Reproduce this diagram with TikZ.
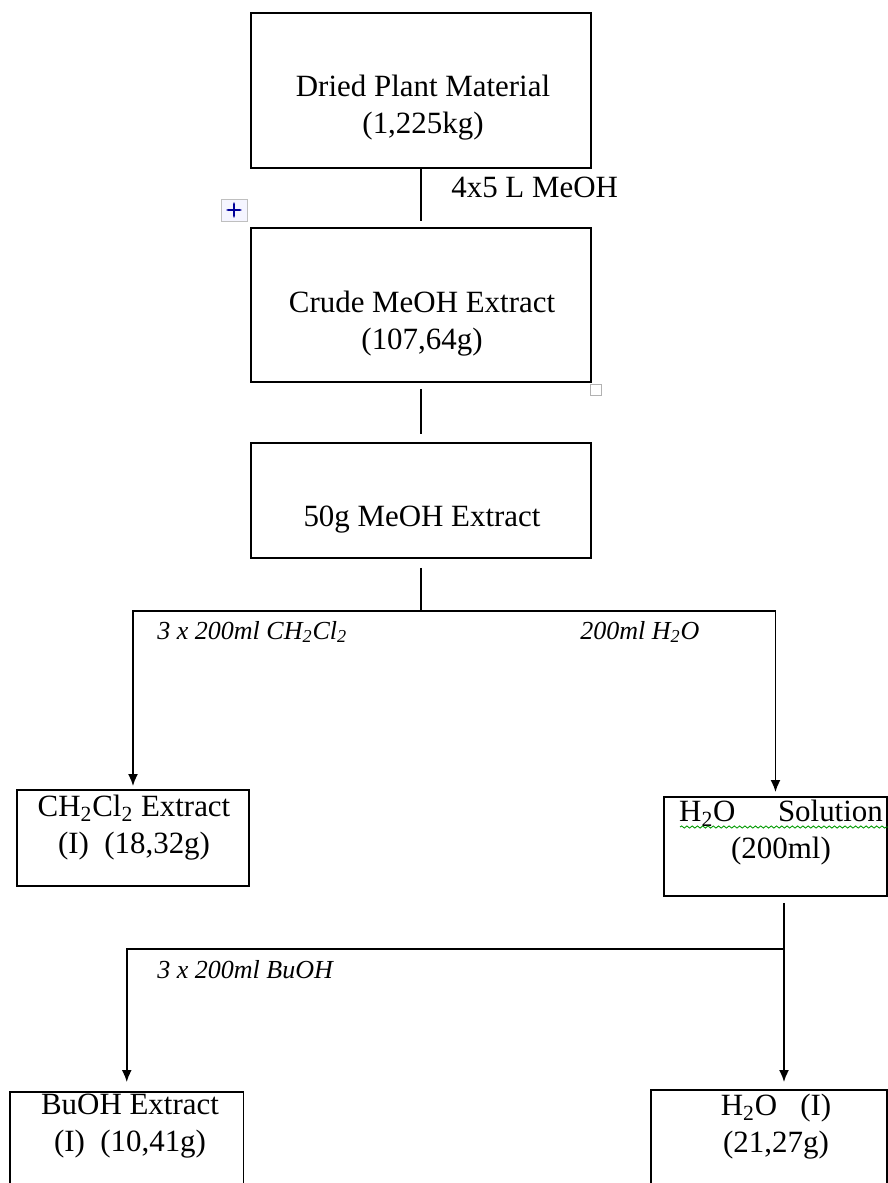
\documentclass[tikz,border=0pt]{standalone}
\usepackage{fontspec}
\setmainfont{Liberation Serif}
\usetikzlibrary{arrows.meta,decorations.pathmorphing}

\tikzset{
  box/.style={draw, line width=1.1pt, inner sep=0pt},
  boxtext/.style={inner sep=0pt, align=center, font=\fontsize{17.6}{21}\selectfont},
  cond/.style={inner sep=0pt, anchor=west, font=\fontsize{14.8}{17}\selectfont\itshape},
  link/.style={line width=1pt},
  flow/.style={link, -{Latex[length=0.24cm,width=0.2cm]}}
}

\begin{document}
\begin{tikzpicture}[x=0.02cm, y=-0.02cm]
\useasboundingbox (0,0) rectangle (888,1183);
\clip (0,0) rectangle (888,1183);

% Boxes
\node[box, minimum width=6.8cm, minimum height=3.1cm] (dried) at (421,90.5) {};
\node[box, minimum width=6.8cm, minimum height=3.08cm] (crude) at (421,305) {};
\node[box, minimum width=6.8cm, minimum height=2.3cm] (fifty) at (421,500.5) {};
\node[box, minimum width=4.64cm, minimum height=1.92cm] (ch2cl2) at (133,838) {};
\node[box, minimum width=4.46cm, minimum height=1.98cm] (h2osol) at (775.5,846.5) {};
\node[box, minimum width=4.67cm, minimum height=2.16cm] (buoh) at (126.75,1146) {};
\node[box, minimum width=4.72cm, minimum height=2.2cm] (h2oi) at (769,1145) {};

% Box texts
\node[boxtext] (driedtxt) at (423,108) {Dried Plant Material\\(1,225kg)};
\node[boxtext] (crudetxt) at (422,324) {Crude MeOH Extract\\(107,64g)};
\node[boxtext] (fiftytxt) at (422,520) {50g MeOH Extract};
\node[boxtext] (ch2cl2txt) at (134,828) {CH\textsubscript{2}Cl\textsubscript{2} Extract\\(I)~~(18,32g)};
\node[boxtext] (h2osoltxt) at (781,833) {H\textsubscript{2}O\hspace{0.85cm}Solution\\(200ml)};
\node[boxtext] (buohtxt) at (130,1126) {BuOH Extract\\(I)~~(10,41g)};
\node[boxtext] (h2oitxt) at (776,1127) {H\textsubscript{2}O~~~(I)\\(21,27g)};

% MeOH extraction
\draw[link, shorten >=0.12cm] (dried) -- (crude);
\node[boxtext, anchor=west] (meohlbl) at (451,187) {4x5 L MeOH};
\draw[link, shorten <=0.12cm, shorten >=0.16cm] (crude) -- (fifty);

% First partition
\coordinate (split1) at (421,611);
\draw[link, shorten <=0.18cm] (fifty) -- (split1);
\draw[flow, shorten >=0.06cm] (split1) -| (ch2cl2);
\draw[flow, shorten >=0.08cm] (split1) -| (h2osol);
\node[cond] (dcmlbl) at (157,632) {3 x 200ml CH\textsubscript{2}Cl\textsubscript{2}};
\node[cond] (waterlbl) at (580,632) {200ml H\textsubscript{2}O};

% Second partition
\coordinate (split2) at (784,949);
\draw[link, shorten <=0.12cm] (h2osol.south -| split2) -- (split2);
\draw[flow, shorten >=0.18cm] (split2) -| (buoh);
\draw[flow, shorten >=0.14cm] (split2) -- (split2 |- h2oi.north);
\node[cond] (buohlbl) at (157,970) {3 x 200ml BuOH};

% spell check underline
\draw[green!60!black, line width=0.5pt, decorate, decoration={snake, amplitude=0.6pt, segment length=3pt}] (680,827) -- (888,827);

% table handles
\draw[gray!50, fill=blue!4] (221,199) rectangle (247,221);
\draw[blue!60!black, line width=0.6pt, {Stealth[length=1.5pt]}-{Stealth[length=1.5pt]}] (226,210) -- (242,210);
\draw[blue!60!black, line width=0.6pt, {Stealth[length=1.5pt]}-{Stealth[length=1.5pt]}] (234,202) -- (234,218);
\draw[gray!60, fill=white] (590,384) rectangle (601,395);

\end{tikzpicture}
\end{document}
